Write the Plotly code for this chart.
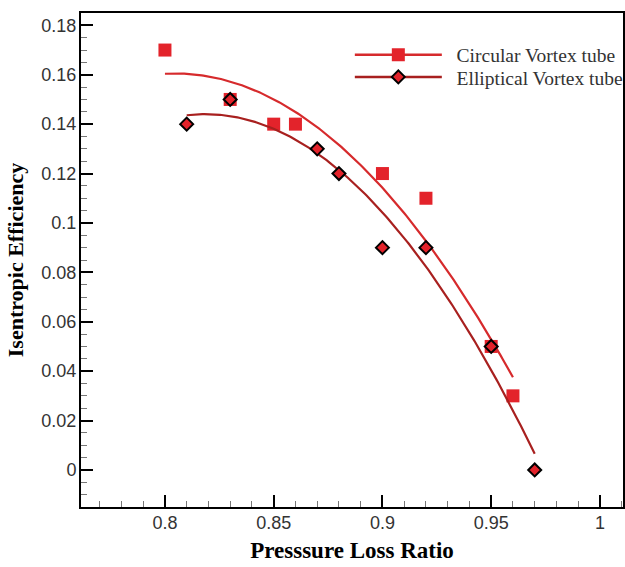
import numpy as np
import plotly.graph_objects as go

# Measured points
circ_x = [0.80, 0.83, 0.85, 0.86, 0.90, 0.92, 0.95, 0.96]
circ_y = [0.17, 0.15, 0.14, 0.14, 0.12, 0.11, 0.05, 0.03]
ell_x = [0.81, 0.83, 0.87, 0.88, 0.90, 0.92, 0.95, 0.97]
ell_y = [0.14, 0.15, 0.13, 0.12, 0.09, 0.09, 0.05, 0.00]

x_ticks = [0.8, 0.85, 0.9, 0.95, 1.0]
x_tick_text = ["0.8", "0.85", "0.9", "0.95", "1"]
y_ticks = [0, 0.02, 0.04, 0.06, 0.08, 0.10, 0.12, 0.14, 0.16, 0.18]
y_tick_text = ["0", "0.02", "0.04", "0.06", "0.08", "0.1", "0.12", "0.14", "0.16", "0.18"]

CIRC_LINE = "#d62a2c"
ELL_LINE = "#a8201f"
MARK_FILL = "#e3232b"
SERIF = "Liberation Serif, Times New Roman, serif"
SANS = "Liberation Sans, Arial, sans-serif"


def quad_trend(xs, ys, n=200):
    """Second-order least-squares trend over the span of the data."""
    coef = np.polyfit(xs, ys, 2)
    xf = np.linspace(min(xs), max(xs), n)
    return xf, np.polyval(coef, xf)


cfx, cfy = quad_trend(circ_x, circ_y)
efx, efy = quad_trend(ell_x, ell_y)

fig = go.Figure()

# circular tube points (underneath the trend lines)
fig.add_trace(go.Scatter(
    x=circ_x, y=circ_y, mode="markers", showlegend=False,
    marker=dict(symbol="square", size=13, color=MARK_FILL, line=dict(width=0)),
))
fig.add_trace(go.Scatter(
    x=cfx, y=cfy, mode="lines", showlegend=False,
    line=dict(color=CIRC_LINE, width=2.2),
))
fig.add_trace(go.Scatter(
    x=efx, y=efy, mode="lines", showlegend=False,
    line=dict(color=ELL_LINE, width=2.2),
))
fig.add_trace(go.Scatter(
    x=ell_x, y=ell_y, mode="markers", showlegend=False,
    marker=dict(symbol="diamond", size=10, color=MARK_FILL,
                line=dict(color="black", width=2)),
))

# legend entries: trend line with its marker
fig.add_trace(go.Scatter(
    x=[None], y=[None], mode="lines+markers", name="\u00a0\u00a0Circular Vortex tube",
    legend="legend",
    line=dict(color=CIRC_LINE, width=2.5),
    marker=dict(symbol="square", size=13, color=MARK_FILL, line=dict(width=0)),
))
fig.add_trace(go.Scatter(
    x=[None], y=[None], mode="lines+markers", name="\u00a0\u00a0Elliptical Vortex tube",
    legend="legend2",
    line=dict(color=ELL_LINE, width=2.5),
    marker=dict(symbol="diamond", size=10, color=MARK_FILL,
                line=dict(color="black", width=2)),
))

axis_common = dict(
    showgrid=False, zeroline=False,
    showline=True, linecolor="black", linewidth=2, mirror=True,
    ticks="inside", ticklen=12, tickwidth=2, tickcolor="black",
    tickfont=dict(family=SANS, size=18, color="#333"),
)

legend_common = dict(
    xanchor="left", yanchor="middle",
    bgcolor="rgba(0,0,0,0)", borderwidth=0, itemwidth=87,
    font=dict(family=SERIF, size=19.5, color="#333"),
)

fig.update_layout(
    width=625, height=567,
    margin=dict(l=81, r=2, t=13, b=60, autoexpand=False),
    paper_bgcolor="white", plot_bgcolor="white",
    xaxis=dict(
        range=[0.7614, 1.0106], tickvals=x_ticks, ticktext=x_tick_text,
        ticklabelstandoff=-2,
        minor=dict(dtick=0.01, ticks="inside", ticklen=6, tickwidth=1, tickcolor="#777"),
        title=dict(text="Presssure Loss Ratio", standoff=10,
                   font=dict(family=SERIF, size=23, color="black", weight="bold")),
        **axis_common,
    ),
    yaxis=dict(
        range=[-0.015, 0.185], tickvals=y_ticks, ticktext=y_tick_text,
        ticklabelstandoff=-1,
        minor=dict(dtick=0.005, tick0=0, ticks="inside", ticklen=6, tickwidth=1, tickcolor="#777"),
        title=dict(text="Isentropic Efficiency", standoff=12,
                   font=dict(family=SERIF, size=22, color="black", weight="bold")),
        **axis_common,
    ),
    legend=dict(x=0.496, y=0.915, **legend_common),
    legend2=dict(x=0.496, y=0.870, **legend_common),
)

fig.write_html("out.html")
